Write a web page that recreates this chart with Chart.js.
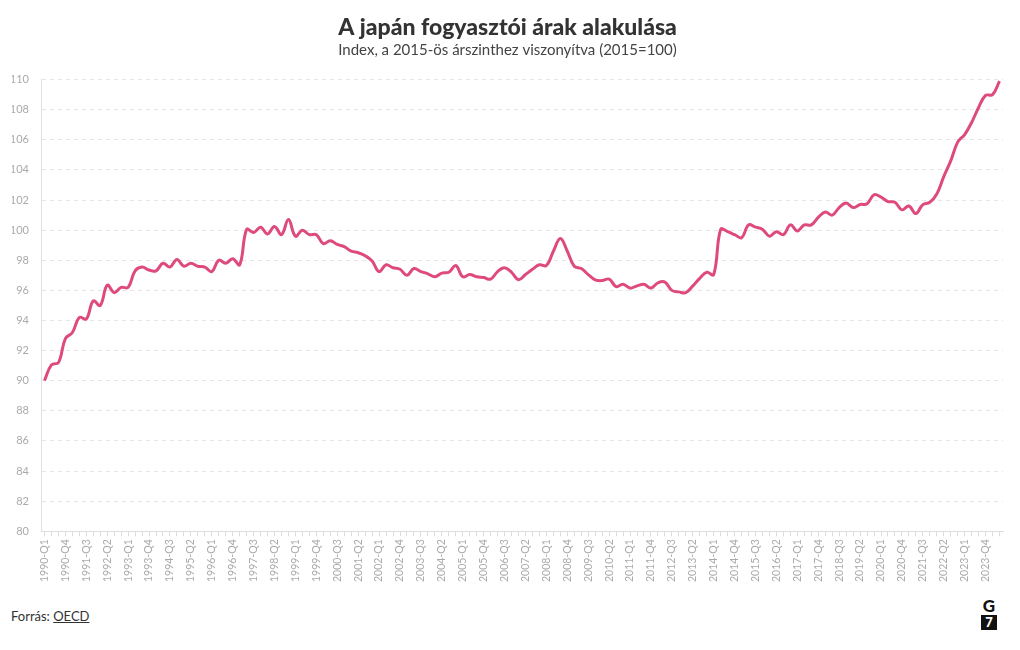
<!DOCTYPE html>
<html lang="hu">
<head>
<meta charset="utf-8">
<title>A japán fogyasztói árak alakulása</title>
<script src="https://cdn.jsdelivr.net/npm/chart.js@4/dist/chart.umd.min.js"></script>
<style>
  html, body { margin: 0; padding: 0; background: #fff; }
  body { width: 1020px; height: 650px; position: relative; font-family: Lato, "Open Sans", sans-serif; }
  #wrap { position: absolute; left: 0; top: 0; width: 1020px; height: 585px; }
  #source { position: absolute; left: 11px; top: 608px; font-size: 13px; color: #333; }
  #source a { color: #333; text-decoration: underline; }
  #logo { position: absolute; left: 981px; top: 598px; width: 16px; text-align: center; font-weight: 900; color: #111; }
  #logo .g { font-size: 17px; line-height: 16px; }
  #logo .seven { background: #111; color: #fff; font-size: 13px; line-height: 15px; height: 15px; margin-top: 1px; }
</style>
</head>
<body>
<div id="wrap"><canvas id="cpiChart"></canvas></div>
<div id="source">Forrás: <a>OECD</a></div>
<div id="logo"><div class="g">G</div><div class="seven">7</div></div>
<script>
/* --------------- Data --------------- */
const firstYear = 1990;
const lastYear = 2024;
const lastQuarter = 2;

// quarterly labels, 1990-Q1 ... 2024-Q2
const quarters = [];
for (let y = firstYear; y <= lastYear; y++) {
  for (let q = 1; q <= 4; q++) {
    if (y === lastYear && q > lastQuarter) break;
    quarters.push(y + "-Q" + q);
  }
}

// consumer price index, 2015 = 100
const cpiValues = [
  90.0, 91.05, 91.2, 92.8, 93.2, 94.2, 94.1, 95.3, 95.0, 96.35,
  95.85, 96.2, 96.2, 97.3, 97.55, 97.35, 97.3, 97.8, 97.55, 98.05,
  97.6, 97.8, 97.6, 97.55, 97.25, 98.0, 97.8, 98.1, 97.7, 100.05,
  99.85, 100.2, 99.75, 100.25, 99.7, 100.7, 99.6, 100.0, 99.7, 99.7,
  99.1, 99.3, 99.05, 98.9, 98.6, 98.5, 98.3, 97.95, 97.25, 97.7,
  97.5, 97.4, 97.0, 97.45, 97.25, 97.1, 96.9, 97.15, 97.2, 97.65,
  96.9, 97.05, 96.9, 96.85, 96.75, 97.25, 97.5, 97.2, 96.7, 97.05,
  97.4, 97.7, 97.65, 98.6, 99.45, 98.6, 97.6, 97.45, 97.05, 96.7,
  96.65, 96.75, 96.25, 96.4, 96.15, 96.3, 96.4, 96.15, 96.5, 96.55,
  96.0, 95.9, 95.85, 96.3, 96.8, 97.2, 97.05, 100.05, 99.9, 99.7,
  99.5, 100.35, 100.2, 100.05, 99.6, 99.9, 99.7, 100.35, 99.95, 100.35,
  100.35, 100.85, 101.2, 101.0, 101.5, 101.8, 101.5, 101.7, 101.75, 102.35,
  102.2, 101.9, 101.85, 101.35, 101.6, 101.1, 101.7, 101.85, 102.4, 103.55,
  104.6, 105.85, 106.35, 107.15, 108.15, 108.95, 109.0, 109.9
];

const yMin = 80;
const yMax = 110;
const yStep = 2;
const labelEvery = 3;

const lineColor = "#de4a7e";
const tickColor = "#aaaaaa";

/* --------------- Chart --------------- */
const cpiChart = new Chart(document.getElementById("cpiChart"), {
  type: "line",
  data: {
    labels: quarters,
    datasets: [
      {
        data: cpiValues,
        borderColor: lineColor,
        borderWidth: 3,
        pointRadius: 0,
        tension: 0.4,
        fill: false,
      },
    ],
  },
  options: {
    responsive: true,
    maintainAspectRatio: false,
    animation: false,
    layout: { padding: { left: 12, right: 17, top: 14, bottom: 0 } },
    plugins: {
      legend: { display: false },
      tooltip: { enabled: false },
      title: {
        display: true,
        text: "A japán fogyasztói árak alakulása",
        color: "#333333",
        font: { family: "Lato", size: 23, weight: "900" },
        padding: { top: 0, bottom: 0 },
      },
      subtitle: {
        display: true,
        text: "Index, a 2015-ös árszinthez viszonyítva (2015=100)",
        color: "#444444",
        font: { family: "Lato", size: 15 },
        padding: { top: 0, bottom: 20 },
      },
    },
    scales: {
      x: {
        offset: true,
        afterFit: (scale) => {
          scale.paddingLeft = 0;
        },
        grid: {
          drawOnChartArea: false,
          drawTicks: true,
          tickLength: 5,
          color: "#dddddd",
        },
        border: { color: "#dddddd" },
        ticks: {
          autoSkip: false,
          maxRotation: 90,
          minRotation: 90,
          padding: 3,
          color: tickColor,
          font: { family: "Lato", size: 10.5 },
          callback: function (value, index) {
            return index % labelEvery === 0 ? this.getLabelForValue(value) : "";
          },
        },
      },
      y: {
        min: yMin,
        max: yMax,
        afterFit: (scale) => {
          scale.width = 29;
        },
        grid: {
          color: "#e6e6e6",
          drawTicks: false,
        },
        border: { color: "#e0e0e0", dash: [4, 4] },
        ticks: {
          stepSize: yStep,
          padding: 12,
          color: tickColor,
          font: { family: "Lato", size: 11 },
        },
      },
    },
  },
});
</script>
</body>
</html>
